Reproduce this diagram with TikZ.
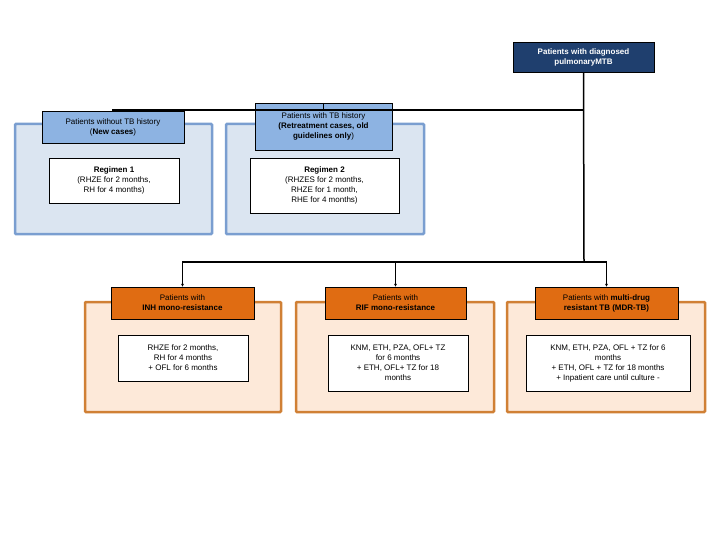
\documentclass[tikz,border=0pt]{standalone}
\usepackage{fontspec}
\setmainfont{Liberation Sans}
\usetikzlibrary{arrows.meta}
\definecolor{navy}{HTML}{1F3F6E}
\definecolor{bluehead}{HTML}{8DB3E2}
\definecolor{bluepanel}{HTML}{DBE5F1}
\definecolor{blueedge}{HTML}{7A9ED0}
\definecolor{orhead}{HTML}{E06C12}
\definecolor{orpanel}{HTML}{FDE9D9}
\definecolor{oredge}{HTML}{D08035}
\tikzset{
  box/.style={draw, align=center, font=\fontsize{8}{10}\selectfont, inner sep=1pt},
  root/.style={box, fill=navy, text=white, font=\fontsize{8}{10}\selectfont\bfseries},
  bhead/.style={box, fill=bluehead},
  ohead/.style={box, fill=orhead},
  txt/.style={box, fill=white},
  bpanel/.style={draw=blueedge, fill=bluepanel, line width=2.5pt, rounded corners=1pt},
  opanel/.style={draw=oredge, fill=orpanel, line width=2.5pt, rounded corners=1pt},
  link/.style={line width=1.5pt},
  arrow/.style={link, -{Latex[length=3pt,width=3pt]}}
}
\begin{document}
\begin{tikzpicture}[x=1pt, y=-1pt]
	\useasboundingbox (0,0) rectangle (720,540);

	% panels
	\draw[bpanel] (15,124) rectangle (212,234);
	\draw[bpanel] (226,124) rectangle (424,234);
	\draw[opanel] (85,302) rectangle (281,412);
	\draw[opanel] (296,302) rectangle (494,412);
	\draw[opanel] (507,302) rectangle (705,412);

	% root
	\node[root, minimum width=141pt, minimum height=30pt] (mtb) at (583.5,57) {Patients with diagnosed\\pulmonaryMTB};

	% history
	\node[bhead, minimum width=142pt, minimum height=32pt] (new) at (113,127) {Patients without TB history\\(\textbf{New cases})};
	\node[bhead, minimum width=137pt, minimum height=47pt] (old) at (323.5,126.5) {Patients with TB history\\\textbf{(Retreatment cases, old}\\\textbf{guidelines only})};
	\node[txt, minimum width=130pt, minimum height=45pt] (reg1) at (114,180.5) {\textbf{Regimen 1}\\(RHZE for 2 months,\\RH for 4 months)};
	\node[txt, minimum width=149pt, minimum height=55pt] (reg2) at (324.5,185.5) {\textbf{Regimen 2}\\(RHZES for 2 months,\\RHZE for 1 month,\\RHE for 4 months)};

	% resistance
	\node[ohead, minimum width=143pt, minimum height=32pt] (inh) at (182.5,303) {Patients with\\\textbf{INH mono-resistance}};
	\node[ohead, minimum width=141pt, minimum height=32pt] (rif) at (395.5,303) {Patients with\\\textbf{RIF mono-resistance}};
	\node[ohead, minimum width=143pt, minimum height=32pt] (mdr) at (606.5,303) {Patients with \textbf{multi-drug}\\\textbf{resistant TB (MDR-TB)}};
	\node[txt, minimum width=130pt, minimum height=46pt] (inhtx) at (183,358) {RHZE for 2 months,\\RH for 4 months\\+ OFL for 6 months};
	\node[txt, minimum width=140pt, minimum height=56pt] (riftx) at (398,363) {KNM, ETH, PZA, OFL+ TZ\\for 6 months\\+ ETH, OFL+ TZ for 18\\months};
	\node[txt, minimum width=164pt, minimum height=56pt] (mdrtx) at (608,363) {KNM, ETH, PZA, OFL + TZ for 6\\months\\+ ETH, OFL + TZ for 18 months\\+ Inpatient care until culture -};

	% connectors
	\coordinate (j1) at (584,110);
	\coordinate (j2) at (584,262);
	\draw[link] (mtb.south) -- (j2);
	\draw[link] (j1) -| (new.north);
	\draw[link] (old.north) |- (j1);
	\draw[arrow] (j2) -| (inh.north);
	\draw[arrow] (j2) -| (mdr.north);
	\draw[arrow] (rif.north |- j2) -- (rif.north);
\end{tikzpicture}
\end{document}
